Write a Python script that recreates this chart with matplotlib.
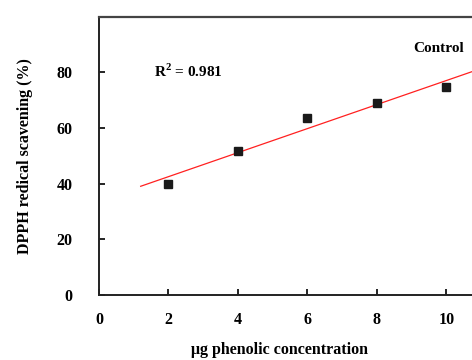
import numpy as np
import matplotlib
matplotlib.use("Agg")
import matplotlib.pyplot as plt

# measured points
conc = [2, 4, 6, 8, 10]
scavenging = [40.0, 51.8, 63.6, 69.0, 74.6]
fit_start, fit_end = 1.2, 12.0
r2_text = "R$^2$ = 0.981"
series_name = "Control"

plt.rcParams['font.family'] = ['Liberation Serif', 'DejaVu Serif']
plt.rcParams['font.weight'] = 'bold'
plt.rcParams['mathtext.fontset'] = 'custom'
plt.rcParams['mathtext.rm'] = 'Liberation Serif:bold'

fig = plt.figure(figsize=(4.72, 3.6), dpi=100)
ax = fig.add_axes([0.2097, 0.1806, 0.8835, 0.773])

# linear fit through the points
slope, icpt = np.polyfit(conc, scavenging, 1)
xf = np.linspace(fit_start, fit_end, 50)
ax.plot(xf, slope * xf + icpt, color='#ff2020', lw=0.9, zorder=2)
ax.plot(conc, scavenging, 's', color='#1a1a1a', ms=6, zorder=3)

ax.set_xlim(0, 12)
ax.set_ylim(0, 100)
ax.set_xticks([0, 2, 4, 6, 8, 10])
ax.set_yticks([0, 20, 40, 60, 80])
ax.tick_params(direction='in', length=4, width=1.2, labelsize=11.5)
ax.tick_params(axis='y', pad=19)
ax.tick_params(axis='x', pad=12)
for lab in ax.get_xticklabels() + ax.get_yticklabels():
    lab.set_fontweight('bold')

for s in ['left', 'bottom']:
    ax.spines[s].set_linewidth(1.4)
    ax.spines[s].set_color('#222222')
ax.spines['top'].set_linewidth(1.6)
ax.spines['top'].set_color('#444444')
ax.spines['right'].set_visible(False)

ax.set_xlabel("\u03bcg phenolic concentration", fontsize=11.5, fontweight='bold', labelpad=12)
ax.xaxis.set_label_coords(0.434, -0.17)
ax.set_ylabel("DPPH redical scavening (%)", fontsize=11.5, fontweight='bold', labelpad=17)

ax.text(1.58, 80.3, r2_text, fontsize=11, fontweight='bold', va='center', ha='left')
ax.text(9.05, 88.6, series_name, fontsize=11, fontweight='bold', va='center', ha='left')

fig.savefig("out.png", dpi=100)
